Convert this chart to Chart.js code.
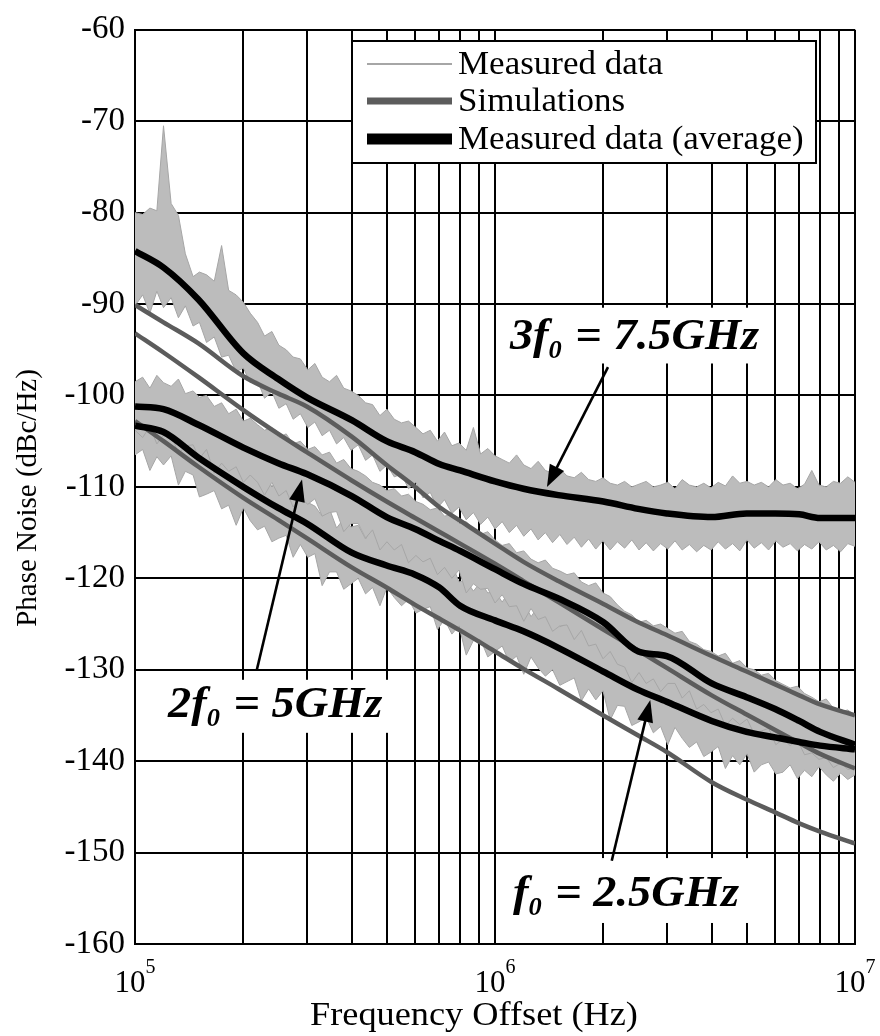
<!DOCTYPE html>
<html>
<head>
<meta charset="utf-8">
<script src="https://cdn.jsdelivr.net/npm/chart.js@4.4.0/dist/chart.umd.min.js"></script>
<style>
  html, body { margin: 0; padding: 0; background: #fff; }
  #wrap { width: 880px; height: 1036px; }
</style>
</head>
<body>
<div id="wrap"><canvas id="c" width="880" height="1036"></canvas></div>
<script>
// Offset frequencies (kHz) of the decimated analyzer sweep, 50 bins per decade
const sweepKHz = [100,105,110,115,120,126,132,138,145,151,158,166,174,182,191,200,209,219,229,240,251,263,275,288,302,316,331,347,363,380,398,417,437,457,479,501,525,550,575,603,631,661,692,724,759,794,832,871,912,955,1000,
  1047,1096,1148,1202,1259,1318,1380,1445,1514,1585,1660,1738,1820,1905,1995,2089,2188,2291,2399,2512,2630,2754,2884,3020,3162,3311,3467,3631,3802,3981,4169,4365,4571,4786,5012,5248,5495,5754,6026,6310,6607,6918,7244,7586,7943,8318,8710,9120,9550,10000];

// Measured data, 3f0 = 7.5 GHz: per-bin max / min (dBc/Hz)
const meas3Hi = [-80.0,-80.2,-79.5,-79.8,-70.5,-79.0,-80.3,-84.5,-87.0,-86.5,
  -86.8,-87.5,-83.6,-88.5,-89.0,-89.8,-91.0,-92.0,-93.5,-93.0,
  -94.5,-95.0,-95.8,-96.0,-97.2,-96.5,-98.0,-98.5,-97.8,-99.2,
  -99.5,-100.0,-100.8,-101.0,-102.2,-101.5,-102.6,-103.0,-102.8,-103.5,
  -104.2,-103.8,-105.0,-104.0,-105.5,-105.2,-106.0,-103.5,-106.4,-105.8,
  -106.6,-107.0,-107.4,-106.5,-107.6,-108.0,-107.2,-108.2,-108.5,-108.0,
  -108.8,-109.0,-108.4,-109.2,-109.4,-109.0,-109.6,-109.8,-109.4,-110.0,
  -109.7,-109.4,-110.0,-109.8,-109.5,-110.2,-109.2,-109.8,-110.0,-109.6,
  -110.1,-109.5,-109.9,-108.8,-109.6,-109.4,-109.8,-109.5,-110.0,-109.2,
  -109.8,-109.6,-110.2,-109.7,-108.2,-109.8,-110.0,-109.4,-109.6,-108.9,
  -109.5];
const meas3Lo = [-90.2,-89.0,-91.0,-88.6,-90.4,-89.3,-91.5,-90.2,-92.4,-92.0,
  -94.2,-93.6,-95.8,-95.6,-97.4,-97.0,-98.6,-98.4,-100.3,-99.6,
  -101.4,-100.9,-102.6,-102.0,-103.5,-102.9,-104.4,-103.8,-105.3,-104.6,
  -106.0,-105.4,-107.1,-106.5,-108.3,-107.6,-108.9,-108.6,-110.2,-109.5,
  -111.2,-110.6,-112.3,-111.4,-112.9,-112.2,-113.6,-112.8,-114.1,-113.3,
  -114.6,-113.8,-115.0,-114.2,-115.4,-114.6,-115.8,-115.0,-116.1,-115.2,
  -116.3,-115.5,-116.6,-115.7,-116.8,-115.9,-116.9,-116.0,-116.7,-115.8,
  -116.9,-116.1,-117.0,-116.2,-116.8,-115.9,-116.9,-116.3,-117.1,-116.4,
  -116.9,-116.0,-116.8,-116.2,-117.0,-115.8,-116.7,-116.1,-116.9,-115.9,
  -116.6,-116.2,-117.0,-116.3,-116.8,-116.0,-116.9,-116.4,-117.1,-116.2,
  -116.5];

// Measured data, 2f0 = 5 GHz
const meas2Hi = [-98.5,-98.0,-99.2,-97.8,-98.6,-99.0,-98.2,-99.8,-99.5,-100.2,
  -100.0,-101.2,-100.8,-102.0,-101.5,-102.8,-102.5,-103.2,-103.8,-103.5,
  -104.6,-104.2,-105.3,-105.0,-105.9,-105.6,-106.5,-106.2,-107.4,-107.0,
  -108.0,-108.3,-108.8,-109.5,-109.8,-110.4,-110.2,-111.0,-110.8,-111.6,
  -111.9,-112.5,-112.3,-113.2,-113.0,-114.0,-113.8,-114.6,-115.2,-114.9,
  -115.8,-116.4,-116.2,-117.2,-117.0,-117.9,-118.3,-118.0,-118.9,-119.2,
  -119.6,-119.4,-120.4,-120.8,-120.5,-121.6,-122.0,-122.9,-123.6,-124.0,
  -124.8,-124.6,-125.2,-125.0,-125.5,-126.0,-125.8,-126.9,-127.2,-127.8,
  -128.0,-128.5,-128.2,-129.3,-129.0,-129.8,-130.0,-130.6,-130.4,-131.2,
  -131.6,-132.0,-131.8,-132.6,-133.0,-133.5,-133.2,-134.2,-134.6,-134.4,
  -135.0];
const meas2Lo = [-103.8,-104.6,-103.4,-105.3,-104.3,-104.2,-106.4,-105.5,-105.4,-106.9,
  -105.9,-108.5,-107.4,-108.3,-107.8,-109.5,-108.7,-109.5,-110.9,-109.5,
  -111.0,-110.4,-112.2,-111.2,-111.9,-111.3,-113.2,-112.8,-112.7,-114.9,
  -114.0,-114.0,-115.6,-114.7,-116.9,-116.0,-116.9,-116.3,-118.3,-117.5,
  -118.2,-117.8,-119.6,-118.8,-120.0,-119.1,-121.6,-120.6,-121.2,-121.1,
  -122.7,-121.8,-123.1,-123.0,-124.7,-123.3,-124.5,-124.2,-125.8,-125.2,
  -125.1,-126.7,-125.7,-127.4,-127.2,-128.8,-128.0,-129.4,-129.7,-131.4,
  -130.3,-131.5,-131.0,-132.4,-131.5,-131.5,-133.1,-132.3,-134.3,-133.8,
  -134.7,-134.3,-136.1,-135.3,-136.0,-135.4,-137.0,-136.7,-136.4,-138.2,
  -137.6,-138.3,-137.7,-139.3,-139.1,-139.8,-139.6,-140.7,-140.2,-140.9,
  -140.8];

// Measured data, f0 = 2.5 GHz
const meas1Hi = [-100.5,-100.0,-101.5,-99.8,-101.4,-101.6,-101.0,-103.2,-102.8,-104.2,
  -103.0,-105.5,-105.4,-105.7,-107.3,-107.1,-106.6,-108.5,-108.2,-110.0,
  -108.7,-110.1,-110.0,-109.3,-111.7,-112.1,-113.2,-112.4,-114.5,-113.5,
  -114.4,-114.2,-115.7,-114.3,-115.9,-115.6,-116.3,-115.3,-117.3,-116.4,
  -117.3,-117.1,-118.9,-118.6,-118.4,-120.4,-120.2,-121.4,-120.4,-121.6,
  -121.4,-122.6,-121.4,-123.0,-122.6,-124.2,-123.1,-124.1,-123.0,-125.3,
  -125.0,-125.8,-125.1,-127.1,-126.3,-127.5,-127.3,-126.9,-129.1,-128.4,
  -129.5,-129.7,-130.9,-129.6,-131.1,-130.7,-131.5,-130.6,-132.8,-132.4,
  -133.2,-132.4,-134.1,-133.2,-134.0,-133.1,-134.9,-134.4,-134.9,-134.1,
  -135.7,-134.7,-135.3,-134.3,-135.8,-135.2,-135.5,-134.9,-136.4,-135.3,
  -135.9];
const meas1Lo = [-106.5,-105.9,-108.2,-106.7,-107.6,-106.6,-109.8,-108.3,-108.7,-111.1,
  -110.8,-110.4,-112.4,-112.0,-114.2,-112.3,-113.7,-114.7,-114.3,-116.0,
  -115.6,-115.3,-117.7,-116.3,-117.7,-117.3,-120.8,-119.3,-119.3,-121.2,
  -120.6,-120.0,-121.7,-121.0,-123.0,-121.0,-122.1,-123.0,-122.3,-123.8,
  -123.4,-123.1,-125.6,-124.5,-126.1,-125.2,-128.4,-126.8,-126.7,-128.6,
  -128.0,-127.4,-129.2,-128.5,-130.5,-128.6,-129.8,-130.7,-130.0,-131.7,
  -131.3,-130.9,-133.4,-132.1,-133.3,-132.3,-135.5,-133.9,-134.0,-136.1,
  -135.7,-135.2,-136.9,-136.2,-138.2,-136.3,-137.5,-138.5,-137.9,-139.5,
  -139.0,-138.4,-140.8,-139.4,-140.4,-139.2,-141.2,-140.4,-140.1,-141.4,
  -141.2,-140.4,-141.9,-141.0,-141.7,-140.6,-141.5,-142.2,-141.3,-142.0,
  -141.5];

// Frequencies (kHz) of the averaged traces and simulated curves
const curveKHz = [100,120,150,200,250,300,400,500,600,700,800,1000,1200,1500,2000,2500,3000,4000,5000,6000,7000,8000,10000];

// Measured data (average)
const avg3 = [-84.2,-86.0,-89.5,-95.4,-98.2,-100.2,-102.7,-105.0,-106.2,-107.5,-108.2,-109.4,-110.2,-110.9,-111.6,-112.4,-112.9,-113.3,-112.9,-112.9,-113.0,-113.4,-113.4];
const avg2 = [-101.2,-101.5,-103.2,-105.7,-107.4,-108.6,-111.0,-113.3,-114.6,-115.9,-117.0,-119.0,-120.6,-122.2,-124.8,-128.0,-128.5,-131.5,-133.0,-134.3,-135.6,-136.8,-138.2];
const avg1 = [-103.3,-104.0,-106.8,-110.0,-112.3,-114.0,-117.2,-118.6,-119.6,-121.0,-123.0,-124.6,-125.8,-127.6,-130.2,-132.2,-133.5,-135.6,-136.8,-137.4,-137.9,-138.3,-138.7];

// Simulations
const simA = [-90.1,-92.0,-94.3,-97.9,-99.8,-101.2,-104.5,-107.6,-110.0,-112.2,-113.7,-116.2,-118.2,-120.3,-122.8,-124.8,-126.2,-128.5,-130.2,-131.6,-132.8,-133.8,-135.0];
const simB = [-93.2,-95.3,-98.0,-101.6,-104.2,-106.2,-109.3,-111.6,-113.4,-114.9,-116.2,-118.4,-120.3,-122.6,-125.6,-127.9,-129.8,-132.8,-134.9,-136.6,-138.0,-139.2,-140.8];
const simC = [-102.8,-105.0,-107.8,-111.2,-113.6,-115.6,-118.8,-121.0,-122.9,-124.4,-125.7,-128.0,-129.9,-132.1,-135.0,-137.2,-139.0,-142.3,-144.2,-145.6,-146.8,-147.7,-149.0];

// Axis ticks
const xGridHz = [1e5,2e5,3e5,4e5,5e5,6e5,7e5,8e5,9e5,1e6,2e6,3e6,4e6,5e6,6e6,7e6,8e6,9e6,1e7];
const xLabelExps = [5, 6, 7];
const yMin = -160, yMax = -60, yStep = 10;

const legendLabels = ['Measured data', 'Simulations', 'Measured data (average)'];
const xTitle = 'Frequency Offset (Hz)';
const yTitle = 'Phase Noise (dBc/Hz)';

// Harmonic labels with arrows, placed in data coordinates (Hz, dBc/Hz)
const notes = [
  { main: '3f', sub: '0', rest: ' = 7.5GHz', at: [1.10e6, -94.9], box: [1.03e6, 5.8e6, -90.4, -96.5], arrow: [[2.06e6, -96.9], [1.394e6, -110.0]] },
  { main: '2f', sub: '0', rest: ' = 5GHz',   at: [1.235e5, -135.2], box: [1.01e5, 5.28e5, -131.1, -136.9], arrow: [[2.18e5, -130.0], [2.91e5, -109.2]] },
  { main: 'f',  sub: '0', rest: ' = 2.5GHz', at: [1.122e6, -155.8], box: [1.03e6, 5.62e6, -150.6, -157.7], arrow: [[2.11e6, -150.9], [2.70e6, -133.3]] }
];

const SERIF = '"Liberation Serif", "Times New Roman", serif';
const C_MEAS = '#a6a6a6', C_MEAS_FILL = '#bcbcbc', C_SIM = '#5c5c5c', C_AVG = '#000000';

const pts = (kHz, vals) => kHz.map((f, i) => ({ x: f * 1e3, y: vals[i] }));

function bandPair(hi, lo) {
  return [
    { data: pts(sweepKHz, hi), borderColor: C_MEAS, borderWidth: 1, fill: false, order: 3 },
    { data: pts(sweepKHz, lo), borderColor: C_MEAS, borderWidth: 1, backgroundColor: C_MEAS_FILL, fill: '-1', order: 3 }
  ];
}
const simLine = v => ({ data: pts(curveKHz, v), borderColor: C_SIM, borderWidth: 4.5, cubicInterpolationMode: 'monotone', order: 2 });
const avgLine = v => ({ data: pts(curveKHz, v), borderColor: C_AVG, borderWidth: 6.5, cubicInterpolationMode: 'monotone', order: 1 });

const datasets = [
  ...bandPair(meas3Hi, meas3Lo),
  ...bandPair(meas2Hi, meas2Lo),
  ...bandPair(meas1Hi, meas1Lo),
  simLine(simA), simLine(simB), simLine(simC),
  avgLine(avg3), avgLine(avg2), avgLine(avg1)
];

// Text drawn with a slight horizontal stretch, as in the typeset figure
function wideText(ctx, text, x, y, sx, align) {
  const w = ctx.measureText(text).width * sx;
  let left = x;
  if (align === 'center') left = x - w / 2;
  else if (align === 'right') left = x - w;
  ctx.save();
  ctx.translate(left, y);
  ctx.scale(sx, 1);
  ctx.textAlign = 'left';
  ctx.fillText(text, 0, 0);
  ctx.restore();
  return w;
}

function drawArrow(ctx, x0, y0, x1, y1) {
  const a = Math.atan2(y1 - y0, x1 - x0);
  const L = 22, W = 8;
  ctx.beginPath();
  ctx.moveTo(x0, y0);
  ctx.lineTo(x1 - (L - 4) * Math.cos(a), y1 - (L - 4) * Math.sin(a));
  ctx.stroke();
  ctx.beginPath();
  ctx.moveTo(x1, y1);
  ctx.lineTo(x1 - L * Math.cos(a) + W * Math.sin(a), y1 - L * Math.sin(a) - W * Math.cos(a));
  ctx.lineTo(x1 - L * Math.cos(a) - W * Math.sin(a), y1 - L * Math.sin(a) + W * Math.cos(a));
  ctx.closePath();
  ctx.fill();
}

const decor = {
  id: 'decor',
  afterDatasetsDraw(chart) {
    const { ctx } = chart;
    const xs = chart.scales.x, ys = chart.scales.y;
    ctx.save();

    // Harmonic labels: white boxes over the grid, text, arrows
    notes.forEach(n => {
      const bx0 = xs.getPixelForValue(n.box[0]), bx1 = xs.getPixelForValue(n.box[1]);
      const by0 = ys.getPixelForValue(n.box[2]), by1 = ys.getPixelForValue(n.box[3]);
      ctx.fillStyle = '#fff';
      ctx.fillRect(bx0, by0, bx1 - bx0, by1 - by0);
      ctx.fillStyle = '#000';
      ctx.textBaseline = 'alphabetic';
      let px = xs.getPixelForValue(n.at[0]);
      const py = ys.getPixelForValue(n.at[1]);
      ctx.font = 'italic bold 44px ' + SERIF;
      px += wideText(ctx, n.main, px, py, 1.055, 'left');
      ctx.font = 'italic bold 25px ' + SERIF;
      px += wideText(ctx, n.sub, px, py + 9, 1.055, 'left') + 2;
      ctx.font = 'italic bold 44px ' + SERIF;
      wideText(ctx, n.rest, px, py, 1.055, 'left');
      ctx.strokeStyle = '#000';
      ctx.lineWidth = 2.6;
      drawArrow(ctx,
        xs.getPixelForValue(n.arrow[0][0]), ys.getPixelForValue(n.arrow[0][1]),
        xs.getPixelForValue(n.arrow[1][0]), ys.getPixelForValue(n.arrow[1][1]));
    });

    // Legend box in the upper right of the plot
    const lg = { x: 352, y: 41, w: 464, h: 122 };
    ctx.fillStyle = '#fff';
    ctx.fillRect(lg.x, lg.y, lg.w, lg.h);
    ctx.strokeStyle = '#000';
    ctx.lineWidth = 2;
    ctx.strokeRect(lg.x, lg.y, lg.w, lg.h);
    const rows = [
      { y: 64, color: C_MEAS, width: 2 },
      { y: 101, color: C_SIM, width: 7 },
      { y: 139, color: C_AVG, width: 11 }
    ];
    rows.forEach((r, i) => {
      ctx.strokeStyle = r.color;
      ctx.lineWidth = r.width;
      ctx.lineCap = 'butt';
      ctx.beginPath();
      ctx.moveTo(367, r.y);
      ctx.lineTo(452, r.y);
      ctx.stroke();
      ctx.fillStyle = '#000';
      ctx.font = '33px ' + SERIF;
      ctx.textBaseline = 'middle';
      wideText(ctx, legendLabels[i], 458, r.y + 1, 1.06, 'left');
    });
    ctx.restore();
  },
  afterDraw(chart) {
    const { ctx } = chart;
    const xs = chart.scales.x;
    ctx.save();
    ctx.fillStyle = '#000';
    ctx.textBaseline = 'alphabetic';
    // Decade labels 10^n
    xLabelExps.forEach(e => {
      const cx = xs.getPixelForValue(Math.pow(10, e));
      ctx.font = '31px ' + SERIF;
      const wb = ctx.measureText('10').width;
      ctx.font = '20px ' + SERIF;
      const we = ctx.measureText(String(e)).width;
      const left = cx - (wb + we) / 2;
      ctx.font = '31px ' + SERIF;
      ctx.textAlign = 'left';
      ctx.fillText('10', left, 992);
      ctx.font = '20px ' + SERIF;
      ctx.fillText(String(e), left + wb, 973);
    });
    // Axis titles
    ctx.font = '33px ' + SERIF;
    wideText(ctx, xTitle, 474, 1025, 1.1, 'center');
    ctx.translate(28, 498);
    ctx.rotate(-Math.PI / 2);
    ctx.font = '29px ' + SERIF;
    ctx.textBaseline = 'middle';
    ctx.textAlign = 'center';
    ctx.fillText(yTitle, 0, 0);
    ctx.restore();
  }
};

new Chart(document.getElementById('c'), {
  type: 'line',
  data: { datasets },
  options: {
    responsive: false,
    devicePixelRatio: 1,
    animation: false,
    elements: { point: { radius: 0 }, line: { tension: 0 } },
    layout: { padding: { left: 0, right: 25, top: 19.5, bottom: 0 } },
    plugins: { legend: { display: false }, tooltip: { enabled: false } },
    scales: {
      x: {
        type: 'logarithmic',
        min: 1e5, max: 1e7,
        afterBuildTicks: s => { s.ticks = xGridHz.map(v => ({ value: v })); },
        afterFit: s => { s.height = 92; },
        ticks: { display: false },
        grid: { color: '#000', lineWidth: 2, drawTicks: false },
        border: { color: '#000', width: 2 }
      },
      y: {
        type: 'linear',
        min: yMin, max: yMax,
        afterFit: s => { s.width = 135; },
        ticks: {
          stepSize: yStep,
          padding: 10,
          color: '#000',
          font: { family: SERIF, size: 33 },
          callback: v => String(v)
        },
        grid: { color: '#000', lineWidth: 2, drawTicks: false },
        border: { color: '#000', width: 2 }
      }
    }
  },
  plugins: [decor]
});
</script>
</body>
</html>
